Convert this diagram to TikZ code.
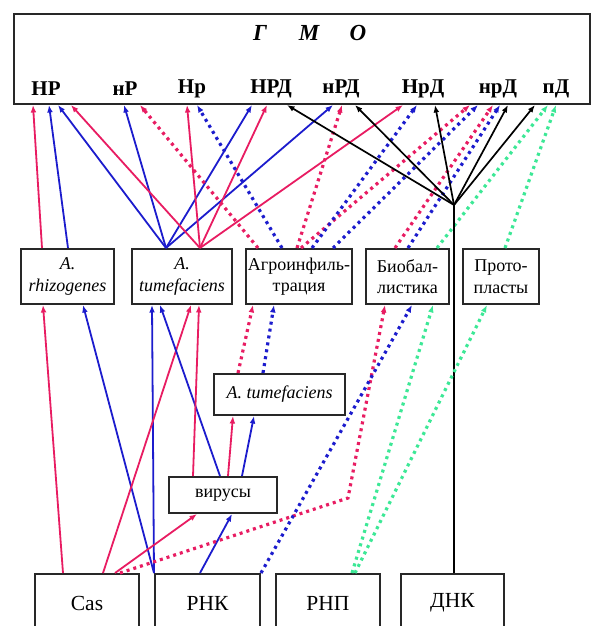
\documentclass[tikz,border=0pt]{standalone}
\usepackage{fontspec}
\setmainfont{Liberation Serif}
\usetikzlibrary{arrows.meta,calc}
\definecolor{pk}{RGB}{232,28,98}
\definecolor{bl}{RGB}{28,28,205}
\definecolor{gr}{RGB}{60,232,150}
\definecolor{bd}{RGB}{40,40,40}
\begin{document}
\begin{tikzpicture}[x=1pt,y=-1pt,
  box/.style={draw=bd,line width=2pt,anchor=north west,inner sep=0pt,align=center,fill=white},
  midtxt/.style={font=\fontsize{18}{21.5}\selectfont},
  bottxt/.style={font=\fontsize{21.5}{24}\selectfont},
  lab/.style={font=\fontsize{21}{23}\selectfont\bfseries,inner sep=0pt},
  tip/.style={-{Latex[length=7.5pt,width=5.8pt]}},
  sp/.style={tip,draw=pk,line width=1.8pt},
  sb/.style={tip,draw=bl,line width=1.8pt},
  sk/.style={tip,draw=black,line width=1.7pt},
  dpk/.style={tip,draw=pk,line width=3.2pt,dash pattern=on 3pt off 4pt},
  dbl/.style={tip,draw=bl,line width=3.2pt,dash pattern=on 3pt off 4pt},
  dgr/.style={tip,draw=gr,line width=3.2pt,dash pattern=on 3pt off 4pt},
]
\useasboundingbox (0,0) rectangle (592,626);
\fill[white] (0,0) rectangle (592,626);

% boxes
\node[box,minimum width=576pt,minimum height=90pt] (gmo) at (13,13) {};
\node[lab,font=\fontsize{23}{25}\selectfont\bfseries\itshape] (g1) at (260,33) {Г};
\node[lab,font=\fontsize{23}{25}\selectfont\bfseries\itshape] (g2) at (309,33) {М};
\node[lab,font=\fontsize{23}{25}\selectfont\bfseries\itshape] (g3) at (358,33) {О};
\node[lab] (l1) at (46,89) {НР};
\node[lab] (l2) at (125,89) {нР};
\node[lab] (l3) at (192,89) {Нр};
\node[lab] (l4) at (271,89) {НРД};
\node[lab] (l5) at (341,89) {нРД};
\node[lab] (l6) at (423,89) {НрД};
\node[lab] (l7) at (498,89) {нрД};
\node[lab] (l8) at (556,89) {пД};

\node[box,midtxt,minimum width=93pt,minimum height=55pt] (rhi) at (20,248) {\itshape A.\\\itshape rhizogenes};
\node[box,midtxt,minimum width=100pt,minimum height=55pt] (tum) at (131,248) {\itshape A.\\\itshape tumefaciens};
\node[box,midtxt,minimum width=106pt,minimum height=55pt] (agro) at (245,248) {Агроинфиль-\\трация};
\node[box,midtxt,minimum width=83pt,minimum height=55pt] (bio) at (365,248) {Биобал-\\листика};
\node[box,midtxt,minimum width=76pt,minimum height=55pt] (proto) at (462,248) {Прото-\\пласты};
\node[box,midtxt,minimum width=131pt,minimum height=41pt] (tum2) at (213,373) {\itshape A. tumefaciens};
\node[box,midtxt,minimum width=108pt,minimum height=36pt] (vir) at (168,476) {вирусы};

\node[box,minimum width=104pt,minimum height=70pt] (cas) at (34,573) {};
\node[box,minimum width=105pt,minimum height=70pt] (rnk) at (154,573) {};
\node[box,minimum width=104pt,minimum height=70pt] (rnp) at (275,573) {};
\node[box,minimum width=103pt,minimum height=70pt] (dnk) at (400,573) {};
\node[bottxt] (tcas) at ($(cas.north)+(0,30)$) {Cas};
\node[bottxt] (trnk) at ($(rnk.north)+(0,30)$) {РНК};
\node[bottxt] (trnp) at ($(rnp.north)+(0,30)$) {РНП};
\node[bottxt] (tdnk) at ($(dnk.north)+(0,30)$) {ДНК};

\coordinate (j) at (454,205);
\coordinate (bend) at (348,498);

% ---- into GMO
\draw[sp] ([xshift=22pt]rhi.north west) -- ([xshift=20pt]gmo.south west);
\draw[sb] ([xshift=48pt]rhi.north west) -- ([xshift=36pt]gmo.south west);
\foreach \t in {45,111,239,320}
  \draw[sb] ([xshift=35pt]tum.north west) -- ([xshift=\t pt]gmo.south west);
\foreach \t in {58,174,254,390}
  \draw[sp] ([xshift=69pt]tum.north west) -- ([xshift=\t pt]gmo.south west);
\draw[dpk] ([xshift=13pt]agro.north west) -- ([xshift=127pt]gmo.south west);
\draw[dbl] ([xshift=37pt]agro.north west) -- ([xshift=184pt]gmo.south west);
\draw[dpk] ([xshift=52pt]agro.north west) -- ([xshift=329pt]gmo.south west);
\draw[dpk] ([xshift=56pt]agro.north west) -- ([xshift=457pt]gmo.south west);
\draw[dbl] ([xshift=67pt]agro.north west) -- ([xshift=404pt]gmo.south west);
\draw[dbl] ([xshift=88pt]agro.north west) -- ([xshift=465pt]gmo.south west);
\draw[dpk] ([xshift=30pt]bio.north west) -- ([xshift=480pt]gmo.south west);
\draw[dbl] ([xshift=43pt]bio.north west) -- ([xshift=487pt]gmo.south west);
\draw[dgr] ([xshift=72pt]bio.north west) -- ([xshift=535pt]gmo.south west);
\draw[dgr] ([xshift=43pt]proto.north west) -- ([xshift=543pt]gmo.south west);
\draw[line width=1.7pt] ([xshift=54pt]dnk.north west) -- (j);
\foreach \t in {274,342,422,495,522}
  \draw[sk] (j) -- ([xshift=\t pt]gmo.south west);

% ---- lower part
\draw[sp] ([xshift=29pt]cas.north west) -- ([xshift=23pt]rhi.south west);
\draw[sb] (rnk.north west) -- ([xshift=63pt]rhi.south west);
\draw[sb] (rnk.north west) -- ([xshift=21pt]tum.south west);
\draw[sp] ([xshift=69pt]cas.north west) -- ([xshift=60pt]tum.south west);
\draw[sb] ([xshift=52pt]vir.north west) -- ([xshift=29pt]tum.south west);
\draw[sp] ([xshift=25pt]vir.north west) -- ([xshift=68pt]tum.south west);
\draw[sp] ([xshift=60pt]vir.north west) -- ([xshift=20pt]tum2.south west);
\draw[sb] ([xshift=74pt]vir.north west) -- ([xshift=41pt]tum2.south west);
\draw[dpk] ([xshift=25pt]tum2.north west) -- ([xshift=8pt]agro.south west);
\draw[dbl] ([xshift=50pt]tum2.north west) -- ([xshift=29pt]agro.south west);
\draw[sp] ([xshift=81pt]cas.north west) -- ([xshift=29pt]vir.south west);
\draw[sb] ([xshift=46pt]rnk.north west) -- ([xshift=64pt]vir.south west);
\draw[dpk] ([xshift=86pt]cas.north west) -- (bend) -- ([xshift=20pt]bio.south west);
\draw[dbl] (rnk.north east) -- ([xshift=47pt]bio.south west);
\draw[dgr] ([xshift=77pt]rnp.north west) -- ([xshift=68pt]bio.south west);
\draw[dgr] ([xshift=80pt]rnp.north west) -- ([xshift=25pt]proto.south west);
\end{tikzpicture}
\end{document}
